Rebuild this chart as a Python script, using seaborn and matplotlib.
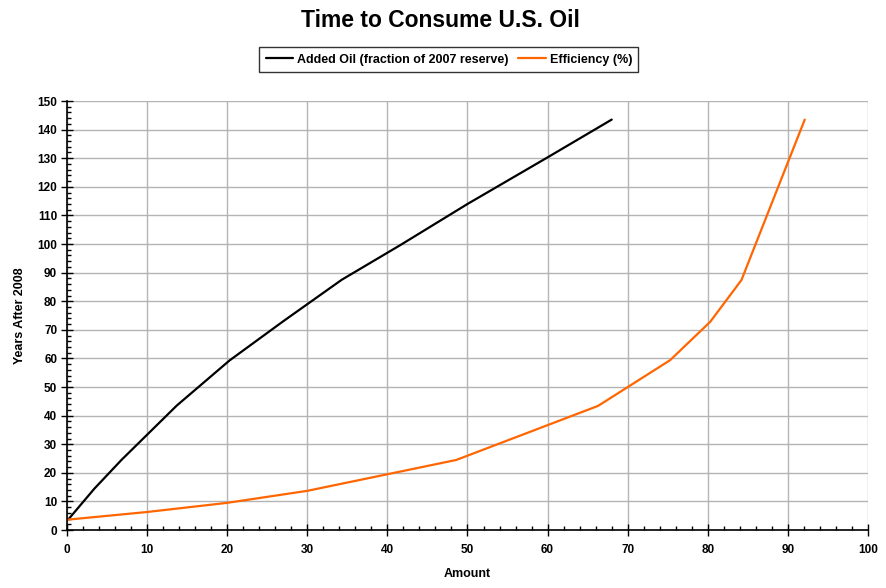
import numpy as np
import pandas as pd
import matplotlib
matplotlib.use("Agg")
import matplotlib.pyplot as plt
from matplotlib.ticker import MultipleLocator
import seaborn as sns

# Data
added_oil_amount = [0.2, 3.4, 6.8, 13.7, 20.3, 27.0, 34.3, 41.6, 50.0, 60.0, 68.0]
added_oil_years = [3.8, 14.4, 24.5, 43.5, 59.3, 73.0, 87.5, 99.6, 114.0, 130.3, 143.5]

efficiency_amount = [0.0, 10.0, 20.0, 30.0, 40.0, 48.6, 66.3, 75.3, 80.3, 84.2, 92.1]
efficiency_years = [3.6, 6.3, 9.5, 13.7, 19.5, 24.5, 43.4, 59.4, 72.8, 87.4, 143.5]

series_names = ["Added Oil (fraction of 2007 reserve)", "Efficiency (%)"]
series_colors = ["#000000", "#ff6600"]

df = pd.concat([
    pd.DataFrame({"Amount": added_oil_amount, "Years": added_oil_years, "series": series_names[0]}),
    pd.DataFrame({"Amount": efficiency_amount, "Years": efficiency_years, "series": series_names[1]}),
])

sns.set_theme(style="white")
plt.rcParams["font.family"] = ["Liberation Sans", "DejaVu Sans"]
plt.rcParams["text.color"] = "black"
plt.rcParams["axes.labelcolor"] = "black"
plt.rcParams["xtick.color"] = "black"
plt.rcParams["ytick.color"] = "black"

fig = plt.figure(figsize=(8.87, 5.88), dpi=100)
ax = fig.add_axes([0.0755, 0.0986, 0.9031, 0.7296])

sns.lineplot(data=df, x="Amount", y="Years", hue="series", sort=False,
             palette=dict(zip(series_names, series_colors)), linewidth=1.6,
             estimator=None, ax=ax, legend=False)

ax.set_xlim(0, 100)
ax.set_ylim(0, 150)
ax.xaxis.set_major_locator(MultipleLocator(10))
ax.xaxis.set_minor_locator(MultipleLocator(2))
ax.yaxis.set_major_locator(MultipleLocator(10))
ax.yaxis.set_minor_locator(MultipleLocator(2))
ax.grid(True, which="major", color="#b4b4b4", linewidth=1)
ax.set_axisbelow(True)

for s in ["top", "right"]:
    ax.spines[s].set_visible(False)
for s in ["left", "bottom"]:
    ax.spines[s].set_color("black")
    ax.spines[s].set_linewidth(1.2)

ax.tick_params(which="major", direction="inout", length=8, width=1, color="black",
               labelsize=8.5, labelcolor="black", pad=3, left=True, bottom=True)
ax.tick_params(axis="x", which="major", pad=6)
ax.tick_params(which="minor", direction="in", length=3, width=1, color="black",
               left=True, bottom=True)
for lbl in ax.get_xticklabels() + ax.get_yticklabels():
    lbl.set_fontweight("bold")

ax.set_xlabel("Amount", fontsize=9, fontweight="bold", labelpad=9, color="black")
ax.set_ylabel("Years After 2008", fontsize=9, fontweight="bold", labelpad=8, color="black")

fig.suptitle("Time to Consume U.S. Oil", fontsize=16.5, fontweight="bold",
             color="black", x=0.497, y=0.985)

handles = [plt.Line2D([], [], color=c, linewidth=1.6) for c in series_colors]
leg = fig.legend(handles, series_names, loc="center", bbox_to_anchor=(0.506, 0.8985),
                 ncol=2, frameon=True, fancybox=False, handlelength=2.2,
                 handletextpad=0.3, columnspacing=0.8, borderpad=0.5,
                 prop={"weight": "bold", "size": 9})
leg.get_frame().set_edgecolor("black")
leg.get_frame().set_linewidth(1)
for t in leg.get_texts():
    t.set_color("black")

fig.savefig("out.png", dpi=100)
